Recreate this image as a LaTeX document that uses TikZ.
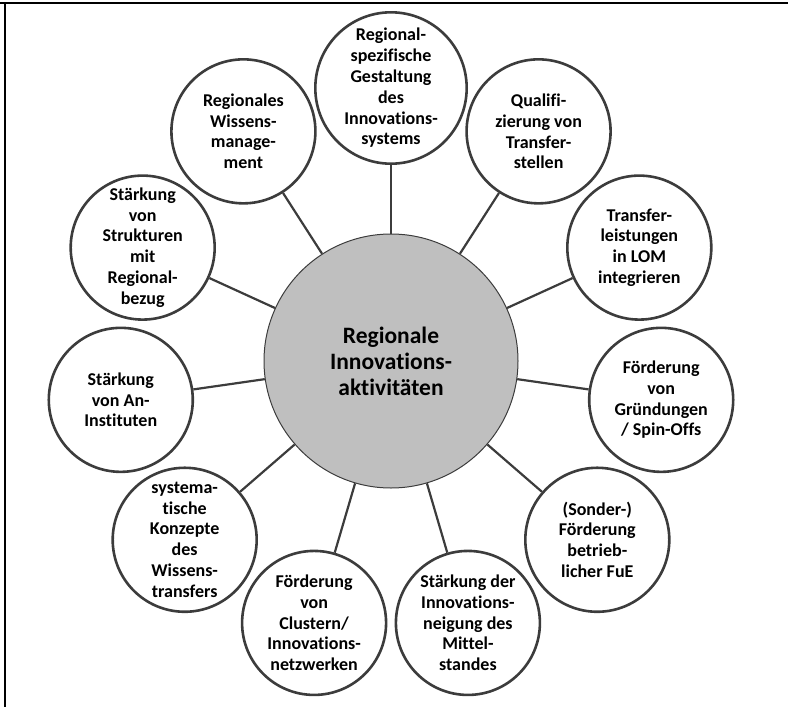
\documentclass[tikz,border=0pt]{standalone}
\usepackage{fontspec}
\setmainfont{Carlito}[Ligatures={NoCommon}]
\definecolor{edge}{HTML}{3C3C3C}
\definecolor{hub}{HTML}{BFBFBF}
\tikzset{
  outer/.style={circle, draw=edge, line width=2.6pt, fill=white, minimum size=144pt, inner sep=0pt,
    align=center, font=\fontsize{18}{20.8}\selectfont\bfseries, text=black},
  hubnode/.style={circle, draw=edge, line width=1pt, fill=hub, minimum size=254pt, inner sep=0pt,
    align=center, font=\fontsize{23.5}{26}\selectfont\bfseries, text=black},
  conn/.style={draw=edge, line width=2.2pt},
  frame/.style={draw=black, line width=2.5pt}
}
\begin{document}
\begin{tikzpicture}[x=1pt,y=1pt]
\useasboundingbox (0,0) rectangle (788,-707);
\coordinate (fa) at (0,-3);
\coordinate (fb) at (788,-3);
\coordinate (fc) at (5,-3);
\coordinate (fd) at (5,-707);
\draw[frame] (fa) -- (fb);
\draw[frame] (fc) -- (fd);
\coordinate (ctr) at (391,-361);
\def\R{273}
\node[outer] (n0) at ([shift={(90:\R)}]ctr) {Regional-\\spezifische\\Gestaltung\\des\\Innovations-\\systems};
\node[outer] (n1) at ([shift={(90+1*32.7273:\R)}]ctr) {Regionales\\Wissens-\\manage-\\ment};
\node[outer] (n2) at ([shift={(90+2*32.7273:\R)}]ctr) {Stärkung\\von\\Strukturen\\mit\\Regional-\\bezug};
\node[outer] (n3) at ([shift={(90+3*32.7273:\R)}]ctr) {Stärkung\\von An-\\Instituten};
\node[outer] (n4) at ([shift={(90+4*32.7273:\R)}]ctr) {systema-\\tische\\Konzepte\\des\\Wissens-\\transfers};
\node[outer] (n5) at ([shift={(90+5*32.7273:\R)}]ctr) {Förderung\\von\\Clustern/\\Innovations-\\netzwerken};
\node[outer] (n6) at ([shift={(90+6*32.7273:\R)}]ctr) {Stärkung der\\Innovations-\\neigung des\\Mittel-\\standes};
\node[outer] (n7) at ([shift={(90+7*32.7273:\R)}]ctr) {(Sonder-)\\Förderung\\betrieb-\\licher FuE};
\node[outer] (n8) at ([shift={(90+8*32.7273:\R)}]ctr) {Förderung\\von\\Gründungen\\/ Spin-Offs};
\node[outer] (n9) at ([shift={(90+9*32.7273:\R)}]ctr) {Transfer-\\leistungen\\in LOM\\integrieren};
\node[outer] (n10) at ([shift={(90+10*32.7273:\R)}]ctr) {Qualifi-\\zierung von\\Transfer-\\stellen};
\node[hubnode] (hub) at (ctr) {Regionale\\Innovations-\\aktivitäten};
\foreach \i in {0,...,10} {\draw[conn] (hub) -- (n\i);}
\end{tikzpicture}
\end{document}
